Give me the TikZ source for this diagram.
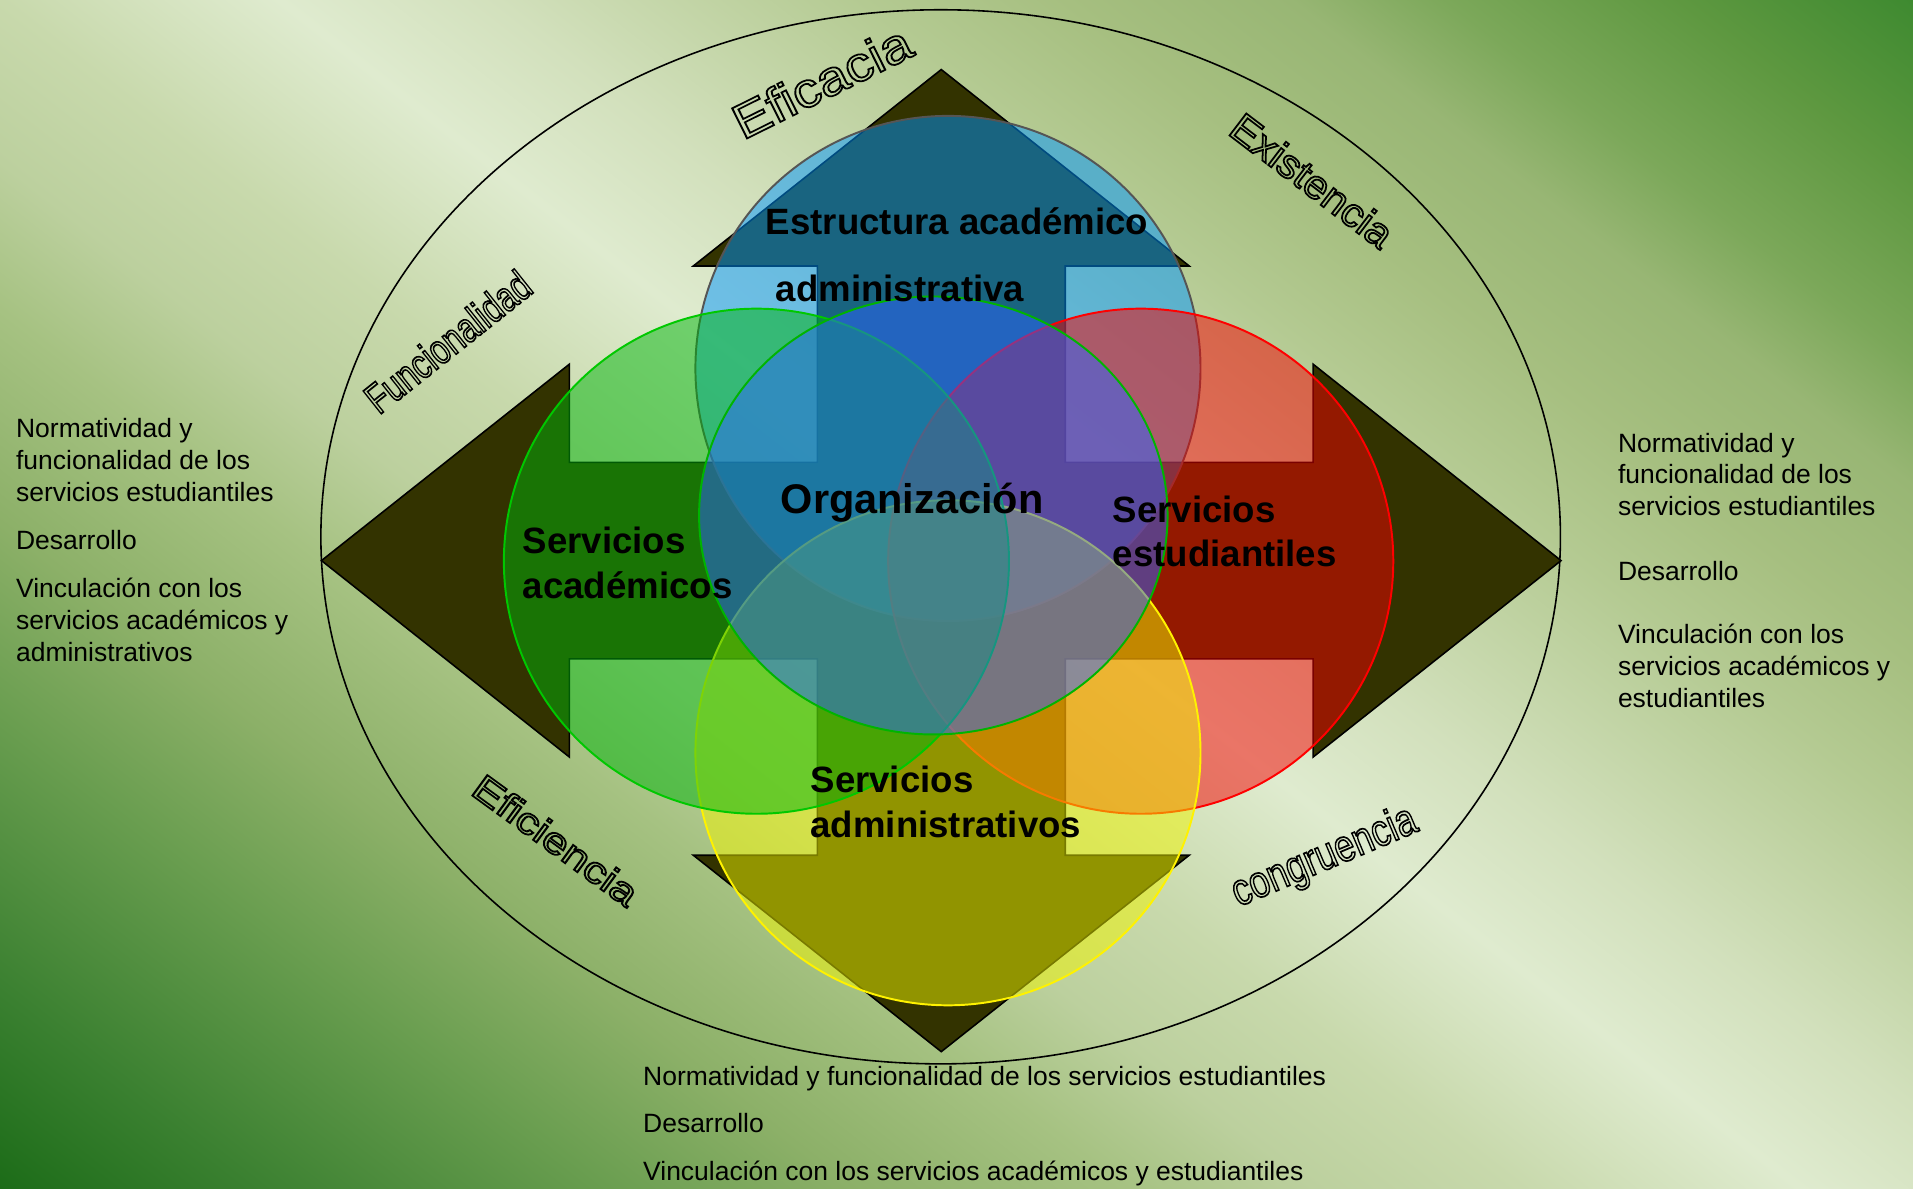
\documentclass[tikz,border=0pt]{standalone}
\usepackage{fontspec}
\setmainfont{Liberation Sans}
\definecolor{fieldA}{HTML}{1C6C18}
\definecolor{fieldB}{HTML}{3A8030}
\definecolor{fieldC}{HTML}{6A9E50}
\definecolor{fieldD}{HTML}{8CB068}
\definecolor{fieldE}{HTML}{A6C282}
\definecolor{fieldF}{HTML}{BCD09E}
\definecolor{fieldG}{HTML}{C8D9AC}
\definecolor{fieldH}{HTML}{DFEBCF}
\definecolor{fieldI}{HTML}{D2E0BC}
\definecolor{fieldJ}{HTML}{B4CA92}
\definecolor{fieldK}{HTML}{A6BF80}
\definecolor{fieldL}{HTML}{98B674}
\definecolor{fieldM}{HTML}{7CA85A}
\definecolor{fieldN}{HTML}{5E9840}
\definecolor{fieldO}{HTML}{3E8A30}
\definecolor{arrowolive}{HTML}{333300}
\definecolor{ringblue}{HTML}{0096FF}
\definecolor{ringred}{HTML}{F50000}
\definecolor{ringyellow}{HTML}{F0F500}
\definecolor{ringgreen}{HTML}{00B50A}
\definecolor{coreblue}{HTML}{2D64FF}
\definecolor{blueedge}{HTML}{555555}
\definecolor{greenedge}{HTML}{00C800}
\definecolor{coreedge}{HTML}{00B400}
\pgfdeclarehorizontalshading{fieldshade}{100bp}{color(0bp)=(fieldA); color(28.35bp)=(fieldA);
  color(31.53bp)=(fieldB); color(36.03bp)=(fieldC); color(39.1bp)=(fieldD); color(42.55bp)=(fieldE);
  color(44.93bp)=(fieldF); color(47.55bp)=(fieldG); color(51.05bp)=(fieldH); color(53.8bp)=(fieldI);
  color(58.38bp)=(fieldJ); color(60.95bp)=(fieldK); color(63.8bp)=(fieldL); color(65.75bp)=(fieldM);
  color(68.7bp)=(fieldN); color(71.65bp)=(fieldO); color(100bp)=(fieldO)}
\tikzset{
  ring/.style={line width=1.6pt, fill opacity=0.5},
  bold label/.style={anchor=base west, inner sep=0pt, font=\fontsize{30}{36}\selectfont\bfseries},
  side text/.style={anchor=base west, inner sep=0pt, font=\fontsize{21.7}{26}\selectfont},
  hollow/.style={inner sep=0pt, font=\fontsize{#1}{#1}\selectfont,
    execute at begin node=\special{pdf:literal direct 1 Tr 1.4 w},
    execute at end node=\special{pdf:literal direct 0 Tr}}
}

\begin{document}
\begin{tikzpicture}[x=1pt, y=-1pt]
  \useasboundingbox (0,0) rectangle (1568,974);
  \begin{scope}
    \clip (0,0) rectangle (1568,974);
    \shade[shading=fieldshade, shading angle=52] (-216,-513) rectangle (1784,1487);
  \end{scope}
  \draw[line width=1.3pt] (771,440) ellipse [x radius=508pt, y radius=432pt];

  \node[hollow=40, rotate=26.4, xscale=1.13] (eficacia) at (673.6,67.1) {Eficacia};
  \node[hollow=33, rotate=-37.3, xscale=1.05] (existencia) at (1075.5,147.8) {Existencia};
  \node[hollow=34.5, rotate=38.5, xscale=0.76] (funcionalidad) at (367,280) {Funcionalidad};
  \node[hollow=30.3, rotate=-36.1, xscale=1.23] (eficiencia) at (455.6,688.6) {Eficiencia};
  \node[hollow=37, rotate=22.9, xscale=0.8] (congruencia) at (1085.8,703.2) {congruencia};

  \filldraw[fill=arrowolive, draw=black, line width=1.3pt]
    (771.5,57) -- (974.7,218) -- (873.1,218) -- (873.1,379) -- (1076.3,379) -- (1076.3,298.5)
    -- (1279.5,459.5) -- (1076.3,620.5) -- (1076.3,540) -- (873.1,540) -- (873.1,701) -- (974.7,701)
    -- (771.5,862) -- (568.3,701) -- (669.9,701) -- (669.9,540) -- (466.7,540) -- (466.7,620.5)
    -- (263.5,459.5) -- (466.7,298.5) -- (466.7,379) -- (669.9,379) -- (669.9,218) -- (568.3,218) -- cycle;

  \filldraw[ring, fill=ringblue, draw=blueedge] (777,302) circle [radius=207pt];
  \filldraw[ring, fill=ringred, draw=red] (935,460) circle [radius=207pt];
  \filldraw[ring, fill=ringyellow, draw=yellow] (777,617) circle [radius=207pt];
  \filldraw[ring, fill=ringgreen, draw=greenedge] (620,460) circle [radius=207pt];
  \filldraw[ring, fill=coreblue, draw=coreedge] (765,422.5) ellipse [x radius=192pt, y radius=179.5pt];

  \node[bold label] (estructura1) at (627.6,192.6) {Estructura académico};
  \node[bold label] (estructura2) at (635.8,247) {administrativa};
  \node[bold label, font=\fontsize{34}{40}\selectfont\bfseries] (organizacion) at (639.8,420.8) {Organización};
  \node[bold label] (academicos1) at (428.4,453.5) {Servicios};
  \node[bold label] (academicos2) at (428.4,490.4) {académicos};
  \node[bold label] (estudiantiles1) at (912,428.4) {Servicios};
  \node[bold label] (estudiantiles2) at (912,464.5) {estudiantiles};
  \node[bold label] (administrativos1) at (664.2,649.6) {Servicios};
  \node[bold label] (administrativos2) at (664.2,686.8) {administrativos};

  \foreach \y/\txt [count=\i] in {358.5/Normatividad y, 384.7/funcionalidad de los,
      411.2/servicios estudiantiles, 450.3/Desarrollo, 489.6/Vinculación con los,
      515.8/servicios académicos y, 541.8/administrativos}
    \node[side text] (left\i) at (13,\y) {\txt};
  \foreach \y/\txt [count=\i] in {370.5/Normatividad y, 396.5/funcionalidad de los,
      422.5/servicios estudiantiles, 475.5/Desarrollo, 527.5/Vinculación con los,
      553.5/servicios académicos y, 579.5/estudiantiles}
    \node[side text] (right\i) at (1326,\y) {\txt};
  \foreach \y/\txt [count=\i] in {889.5/Normatividad y funcionalidad de los servicios estudiantiles,
      928.5/Desarrollo, 967.5/Vinculación con los servicios académicos y estudiantiles}
    \node[side text] (bottom\i) at (527,\y) {\txt};
\end{tikzpicture}
\end{document}
